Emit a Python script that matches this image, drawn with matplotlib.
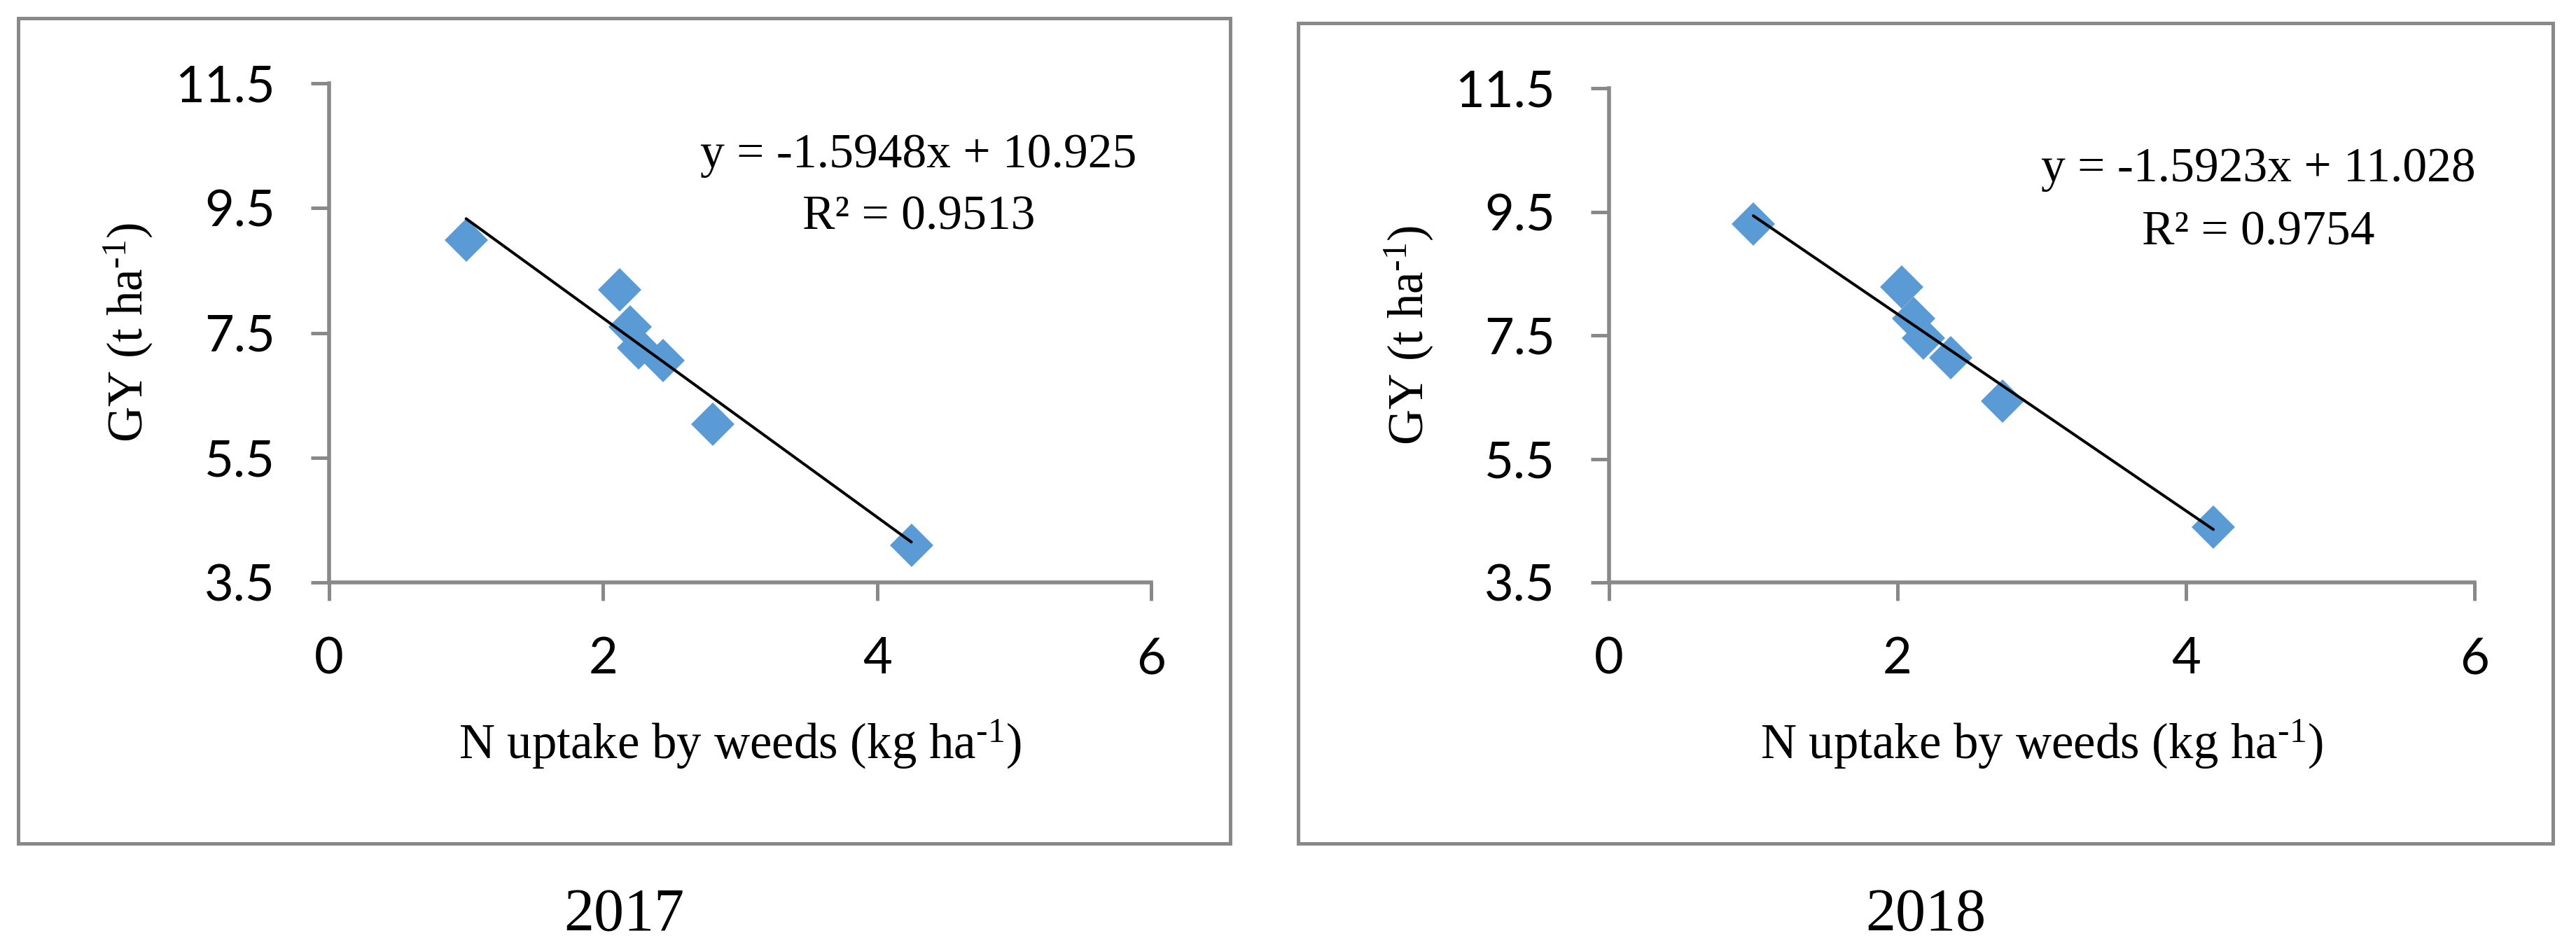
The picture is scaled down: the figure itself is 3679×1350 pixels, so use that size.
import matplotlib
matplotlib.use('Agg')
import matplotlib.pyplot as plt
from matplotlib.patches import Rectangle

# N uptake by weeds (kg/ha) and grain yield (t/ha)
n_2017 = [1.00, 2.12, 2.20, 2.26, 2.44, 2.80, 4.25]
gy_2017 = [8.99, 8.19, 7.59, 7.26, 7.06, 6.04, 4.10]
n_2018 = [1.00, 2.03, 2.11, 2.18, 2.37, 2.73, 4.19]
gy_2018 = [9.30, 8.28, 7.77, 7.45, 7.14, 6.43, 4.39]

# linear trend lines shown in the chart
slopes = [-1.5948, -1.5923]
intercepts = [10.925, 11.028]
r2 = [0.9513, 0.9754]
years = ['2017', '2018']

xticks = [0, 2, 4, 6]
yticks = [3.5, 5.5, 7.5, 9.5, 11.5]

W, H = 3680, 1350
GRAY = '#898989'
BLUE = '#5B9BD5'
SERIF = 'Liberation Serif'

plt.rcParams['mathtext.fontset'] = 'custom'
plt.rcParams['mathtext.rm'] = SERIF
plt.rcParams['mathtext.it'] = SERIF + ':italic'

def fx(px):
    return px / W

def fy(py):
    return 1 - py / H

fig = plt.figure(figsize=(W / 100, H / 100), dpi=100)

# panel layout in pixels (from top-left)
boxes = [(26, 26, 1757, 1205), (1854, 33, 3646, 1205)]
axrects = [(470, 119, 1644, 832), (2298, 126, 3534, 832)]
eq_pos = [(1312, 239, 327), (3225, 259, 350)]
ylab_x = [183, 2012]
year_x = [891, 2750]

data = [(n_2017, gy_2017), (n_2018, gy_2018)]

for i in range(2):
    x0, y0, x1, y1 = boxes[i]
    fig.patches.append(Rectangle((fx(x0), fy(y1)), (x1 - x0) / W, (y1 - y0) / H,
                                 transform=fig.transFigure, fill=False,
                                 edgecolor=GRAY, lw=3.6))
    a0, b0, a1, b1 = axrects[i]
    ax = fig.add_axes([fx(a0), fy(b1), (a1 - a0) / W, (b1 - b0) / H])
    xs, ys = data[i]
    ax.plot(xs, ys, 'D', ms=32, color=BLUE, mew=0, zorder=2)
    tx = [min(xs), max(xs)]
    ty = [slopes[i] * v + intercepts[i] for v in tx]
    ax.plot(tx, ty, color='black', lw=2.9, solid_capstyle='round', zorder=3)
    ax.set_xlim(0, 6)
    ax.set_ylim(3.5, 11.5)
    ax.set_xticks(xticks)
    ax.set_yticks(yticks)
    ax.set_xticklabels([str(v) for v in xticks], family='Lato')
    ax.set_yticklabels([str(v) for v in yticks], family='Lato')
    for s in ['top', 'right']:
        ax.spines[s].set_visible(False)
    for s in ['left', 'bottom']:
        ax.spines[s].set_color(GRAY)
        ax.spines[s].set_linewidth(4)
    ax.tick_params(direction='out', length=18.7, width=3.6, color=GRAY,
                   labelsize=52, pad=37)
    ax.patch.set_alpha(0)

    ex, eb1, eb2 = eq_pos[i]
    fig.text(fx(ex), fy(eb1), f'y = {slopes[i]:.4f}x + {intercepts[i]:.3f}',
             ha='center', va='baseline', fontsize=50, family=SERIF)
    fig.text(fx(ex), fy(eb2), f'R² = {r2[i]:.4f}',
             ha='center', va='baseline', fontsize=50, family=SERIF)

    fig.text(fx((a0 + a1) / 2), fy(1083), r'N uptake by weeds (kg ha$^{\mathregular{‐1}}$)',
             ha='center', va='baseline', fontsize=51, family=SERIF)
    fig.text(fx(ylab_x[i]), fy((b0 + b1) / 2), r'GY (t ha$^{\mathregular{‐1}}$)',
             rotation=90, ha='center', va='center', fontsize=51, family=SERIF)
    fig.text(fx(year_x[i]), fy(1329), years[i], ha='center', va='baseline',
             fontsize=62, family=SERIF)

fig.savefig('out.png', dpi=100)
